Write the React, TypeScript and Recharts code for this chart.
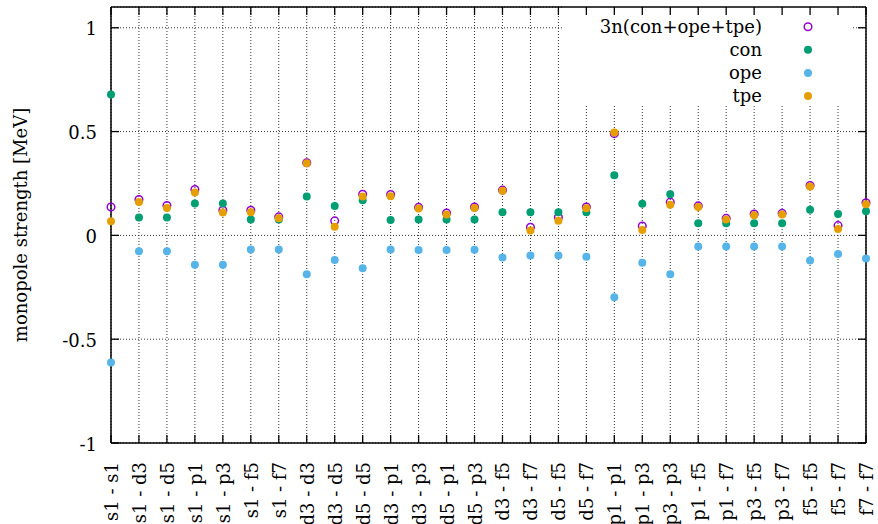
import React from 'react';
import { ScatterChart, Scatter, XAxis, YAxis, CartesianGrid, ReferenceLine, Legend } from 'recharts';

// ---------- data ----------
const LABELS = [
  's1 - s1', 's1 - d3', 's1 - d5', 's1 - p1', 's1 - p3', 's1 - f5', 's1 - f7',
  'd3 - d3', 'd3 - d5', 'd5 - d5', 'd3 - p1', 'd3 - p3', 'd5 - p1', 'd5 - p3',
  'd3 - f5', 'd3 - f7', 'd5 - f5', 'd5 - f7', 'p1 - p1', 'p1 - p3', 'p3 - p3',
  'p1 - f5', 'p1 - f7', 'p3 - f5', 'p3 - f7', 'f5 - f5', 'f5 - f7', 'f7 - f7',
];
const TOTAL = [0.137, 0.173, 0.144, 0.221, 0.121, 0.121, 0.089, 0.350, 0.070, 0.198, 0.197, 0.135, 0.108, 0.137,
  0.218, 0.039, 0.087, 0.137, 0.490, 0.045, 0.160, 0.142, 0.082, 0.103, 0.106, 0.240, 0.047, 0.157];
const CON = [0.678, 0.086, 0.086, 0.153, 0.153, 0.076, 0.076, 0.187, 0.142, 0.169, 0.074, 0.076, 0.076, 0.076,
  0.111, 0.111, 0.111, 0.111, 0.290, 0.152, 0.198, 0.058, 0.058, 0.058, 0.058, 0.123, 0.103, 0.116];
const OPE = [-0.612, -0.077, -0.077, -0.142, -0.142, -0.068, -0.068, -0.187, -0.118, -0.158, -0.068, -0.071, -0.071, -0.069,
  -0.106, -0.097, -0.097, -0.103, -0.298, -0.132, -0.187, -0.053, -0.053, -0.053, -0.053, -0.121, -0.090, -0.111];
const TPE = [0.068, 0.161, 0.132, 0.206, 0.110, 0.112, 0.082, 0.347, 0.042, 0.187, 0.189, 0.129, 0.100, 0.132,
  0.215, 0.024, 0.071, 0.131, 0.495, 0.026, 0.148, 0.137, 0.076, 0.097, 0.100, 0.235, 0.031, 0.150];
const SERIES_NAMES = ['3n(con+ope+tpe)', 'con', 'ope', 'tpe'];
const Y_TICKS = [-1, -0.5, 0, 0.5, 1];
const Y_DOMAIN: [number, number] = [-1, 1.1];
const Y_LABEL = 'monopole strength [MeV]';

// ---------- style / layout ----------
const W = 878;
const H = 524;
const PLOT_TOP = 7;
const PLOT_RIGHT = 866;
const Y_AXIS_W = 111;
const X_AXIS_H = 81;
const TICK = 8;
const LEGEND_BOX = { left: 562, right: 853, bottom: 106 };
const FONT = "'DejaVu Serif', serif";
const FS = 18;
const TXT: React.CSSProperties = { fontFamily: FONT, fontSize: FS };
const COLORS = ['#9400D3', '#009E73', '#56B4E9', '#E69F00'];
const GRID_STROKE = '#333';
const GRID_DASH = '1 2';
const DOT_R = 4;
const RING_R = 3.8;
const RING_W = 1.5;

const toPoints = (vals: number[]) => vals.map((y, i) => ({ x: i, y }));
const X_TICKS = LABELS.map((_, i) => i);

const ring = (color: string) => (p: any) =>
  <circle cx={p.cx} cy={p.cy} r={RING_R} fill="none" stroke={color} strokeWidth={RING_W} />;
const dot = (color: string) => (p: any) =>
  <circle cx={p.cx} cy={p.cy} r={DOT_R} fill={color} />;

const XTick = (p: any) => {
  const { x, y, payload } = p;
  const tx = x + 7;
  const ty = y + 19;
  return (
    <g>
      <line x1={x} x2={x} y1={y} y2={y - TICK} stroke="#000" strokeWidth={1.3} />
      <line x1={x} x2={x} y1={PLOT_TOP} y2={PLOT_TOP + TICK} stroke="#000" strokeWidth={1.3} />
      <text x={tx} y={ty} transform={`rotate(-90 ${tx} ${ty})`} textAnchor="end"
        style={TXT} fill="#000">{LABELS[payload.value]}</text>
    </g>
  );
};

const YTick = (p: any) => {
  const { x, y, payload } = p;
  return (
    <g>
      <line x1={x} x2={x + TICK} y1={y} y2={y} stroke="#000" strokeWidth={1.3} />
      <line x1={PLOT_RIGHT} x2={PLOT_RIGHT - TICK} y1={y} y2={y} stroke="#000" strokeWidth={1.3} />
      <text x={x - 14} y={y} dy="0.42em" textAnchor="end" style={TXT} fill="#000">
        {String(payload.value)}
      </text>
    </g>
  );
};

const renderYLabel = (props: any) => {
  const vb = props.viewBox || { x: 0, y: PLOT_TOP, width: Y_AXIS_W, height: 436 };
  const cx = vb.x + 27;
  const cy = vb.y + vb.height / 2;
  return (
    <text x={cx} y={cy} transform={`rotate(-90 ${cx} ${cy})`} textAnchor="middle"
      style={TXT} fill="#000">{Y_LABEL}</text>
  );
};

const vLine = (p: any) => {
  const y1 = p.x1 > LEGEND_BOX.left && p.x1 < LEGEND_BOX.right ? LEGEND_BOX.bottom : p.y1;
  return <line key={`v-${p.index}`} x1={p.x1} x2={p.x2} y1={y1} y2={p.y2}
    stroke={GRID_STROKE} strokeWidth={1} strokeDasharray={GRID_DASH} fill="none" />;
};
const hLine = (p: any) => {
  if (p.y1 < LEGEND_BOX.bottom) {
    return (
      <g key={`h-${p.index}`}>
        <line x1={p.x1} x2={LEGEND_BOX.left} y1={p.y1} y2={p.y2} stroke={GRID_STROKE} strokeWidth={1} strokeDasharray={GRID_DASH} />
        <line x1={LEGEND_BOX.right} x2={p.x2} y1={p.y1} y2={p.y2} stroke={GRID_STROKE} strokeWidth={1} strokeDasharray={GRID_DASH} />
      </g>
    );
  }
  return <line key={`h-${p.index}`} x1={p.x1} x2={p.x2} y1={p.y1} y2={p.y2}
    stroke={GRID_STROKE} strokeWidth={1} strokeDasharray={GRID_DASH} fill="none" />;
};

const LEGEND_LEFT = 560;
const LegendBox = () => (
  <svg width={300} height={112} style={{ display: 'block', overflow: 'visible' }}>
    {SERIES_NAMES.map((name, i) => {
      const cy = 26.7 + i * 23.1;
      return (
        <g key={name}>
          <text x={762 - LEGEND_LEFT} y={cy} dy="0.33em" textAnchor="end" style={TXT} fill="#000">{name}</text>
          {i === 0
            ? <circle cx={808 - LEGEND_LEFT} cy={cy} r={RING_R} fill="none" stroke={COLORS[i]} strokeWidth={RING_W} />
            : <circle cx={808 - LEGEND_LEFT} cy={cy} r={DOT_R} fill={COLORS[i]} />}
        </g>
      );
    })}
  </svg>
);

const SERIES_VALUES = [TOTAL, CON, OPE, TPE];

export default function App() {
  return (
    <div style={{ position: 'absolute', left: 0, top: 0, width: W, height: H, background: '#fff', fontFamily: FONT }}>
      <ScatterChart width={W} height={H} margin={{ top: PLOT_TOP, right: W - PLOT_RIGHT, left: 0, bottom: 0 }}>
        <CartesianGrid vertical={vLine} horizontal={hLine} stroke={GRID_STROKE} strokeDasharray={GRID_DASH} />
        <XAxis type="number" dataKey="x" domain={[0, LABELS.length - 1]} ticks={X_TICKS} interval={0}
          height={X_AXIS_H} tickSize={0} tickMargin={0} tickLine={false} tick={<XTick />}
          axisLine={{ stroke: '#000', strokeWidth: 1.5 }} />
        <YAxis type="number" dataKey="y" domain={Y_DOMAIN} ticks={Y_TICKS} interval={0}
          width={Y_AXIS_W} tickSize={0} tickMargin={0} tickLine={false} tick={<YTick />}
          axisLine={{ stroke: '#000', strokeWidth: 1.5 }} label={{ content: renderYLabel }} />
        <ReferenceLine y={Y_DOMAIN[1]} stroke="#000" strokeWidth={1.5} />
        <ReferenceLine x={LABELS.length - 1} stroke="#000" strokeWidth={1.5} />
        {SERIES_VALUES.map((vals, i) => (
          <Scatter key={SERIES_NAMES[i]} name={SERIES_NAMES[i]} data={toPoints(vals)} dataKey="y"
            fill={COLORS[i]} shape={i === 0 ? ring(COLORS[i]) : dot(COLORS[i])} isAnimationActive={false} />
        ))}
        <Legend layout="vertical" align="center" verticalAlign="middle"
          wrapperStyle={{ position: 'absolute', left: LEGEND_LEFT, top: 0, width: 300, height: 112 }}
          content={() => <LegendBox />} />
      </ScatterChart>
    </div>
  );
}
